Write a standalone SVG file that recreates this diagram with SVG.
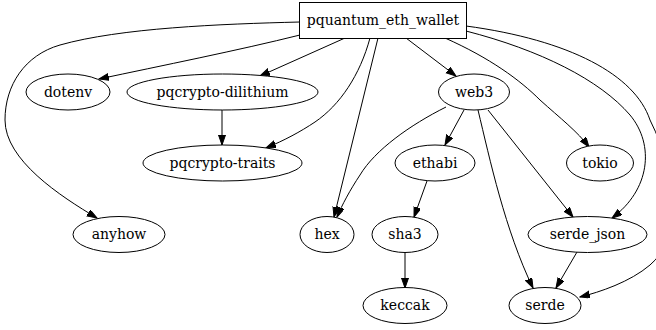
<svg xmlns="http://www.w3.org/2000/svg" width="656" height="330" viewBox="0 0 656 330">
  <style>
    .node ellipse, .node rect { fill: #ffffff; stroke: #000000; stroke-width: 1; }
    .node text { font-family: "DejaVu Serif", "Liberation Serif", serif; font-size: 14px; fill: #000000; text-anchor: middle; }
    .edges path { fill: none; stroke: #000000; stroke-width: 1; marker-end: url(#arrow); }
  </style>
  <defs>
    <marker id="arrow" markerUnits="userSpaceOnUse" markerWidth="11" markerHeight="8" refX="10" refY="3.5" orient="auto">
      <path d="M0,0 L10,3.5 L0,7 Z" fill="#000000" stroke="#000000" stroke-width="1"/>
    </marker>
  </defs>
  <rect width="656" height="330" fill="#ffffff"/>

  <!-- dependency edges -->
  <g id="edges" class="edges">
    <path id="e-wallet-anyhow" d="M300,22 C220,24 120,28 60,45 C25,55 5,85 5,120 C5,160 60,196 97,218"/>
    <path id="e-wallet-dotenv" d="M300,35 C240,50 160,66 99,79"/>
    <path id="e-wallet-dilithium" d="M345,38 L260,76"/>
    <path id="e-wallet-traits" d="M370,38 C360,75 340,105 315,122 C300,132 285,140 266,148"/>
    <path id="e-wallet-hex" d="M378,38 L334,217"/>
    <path id="e-wallet-web3" d="M406,38 L456,76"/>
    <path id="e-wallet-tokio" d="M445,38 C490,58 520,80 540,100 C560,118 578,132 589,147"/>
    <path id="e-wallet-serde_json" d="M466,31 C540,50 600,80 630,115 C655,145 650,190 612,218"/>
    <path id="e-wallet-serde" d="M466,26 C570,40 635,75 650,120 C680,180 680,240 650,265 C630,282 600,292 580,297"/>
    <path id="e-dilithium-traits" d="M222,110 L222,145"/>
    <path id="e-web3-ethabi" d="M464,110 L445,145"/>
    <path id="e-web3-hex" d="M446,107 C410,125 375,150 360,175 C350,190 342,205 337,217"/>
    <path id="e-web3-serde" d="M478,110 C490,160 505,230 533,288"/>
    <path id="e-web3-serde_json" d="M488,110 L573,217"/>
    <path id="e-ethabi-sha3" d="M427,181 L414,217"/>
    <path id="e-sha3-keccak" d="M405,252 L405,288"/>
    <path id="e-serde_json-serde" d="M577,252 L556,288"/>
  </g>

  <g id="pquantum_eth_wallet" class="node">
    <rect x="299.5" y="2.5" width="167" height="36"/>
    <text x="383" y="25">pquantum_eth_wallet</text>
  </g>
  <g id="dotenv" class="node">
    <ellipse cx="68" cy="92" rx="42" ry="18"/>
    <text x="68" y="96.5">dotenv</text>
  </g>
  <g id="pqcrypto-dilithium" class="node">
    <ellipse cx="222.5" cy="92" rx="95.5" ry="18"/>
    <text x="222.5" y="96.5">pqcrypto-dilithium</text>
  </g>
  <g id="web3" class="node">
    <ellipse cx="474" cy="92" rx="35.5" ry="18"/>
    <text x="474" y="96.5">web3</text>
  </g>
  <g id="pqcrypto-traits" class="node">
    <ellipse cx="222.5" cy="163" rx="79.5" ry="18"/>
    <text x="222.5" y="167.5">pqcrypto-traits</text>
  </g>
  <g id="ethabi" class="node">
    <ellipse cx="435" cy="163" rx="40" ry="18"/>
    <text x="435" y="167.5">ethabi</text>
  </g>
  <g id="tokio" class="node">
    <ellipse cx="600" cy="163" rx="33.5" ry="18"/>
    <text x="600" y="167.5">tokio</text>
  </g>
  <g id="anyhow" class="node">
    <ellipse cx="119" cy="234.5" rx="46" ry="18"/>
    <text x="119" y="239">anyhow</text>
  </g>
  <g id="hex" class="node">
    <ellipse cx="327" cy="234.5" rx="27" ry="18"/>
    <text x="327" y="239">hex</text>
  </g>
  <g id="sha3" class="node">
    <ellipse cx="405" cy="234.5" rx="33" ry="18"/>
    <text x="405" y="239">sha3</text>
  </g>
  <g id="serde_json" class="node">
    <ellipse cx="587.5" cy="234.5" rx="59.5" ry="18"/>
    <text x="587.5" y="239">serde_json</text>
  </g>
  <g id="keccak" class="node">
    <ellipse cx="405" cy="305.5" rx="42" ry="18"/>
    <text x="405" y="310">keccak</text>
  </g>
  <g id="serde" class="node">
    <ellipse cx="545" cy="305.5" rx="36" ry="18"/>
    <text x="545" y="310">serde</text>
  </g>
</svg>
